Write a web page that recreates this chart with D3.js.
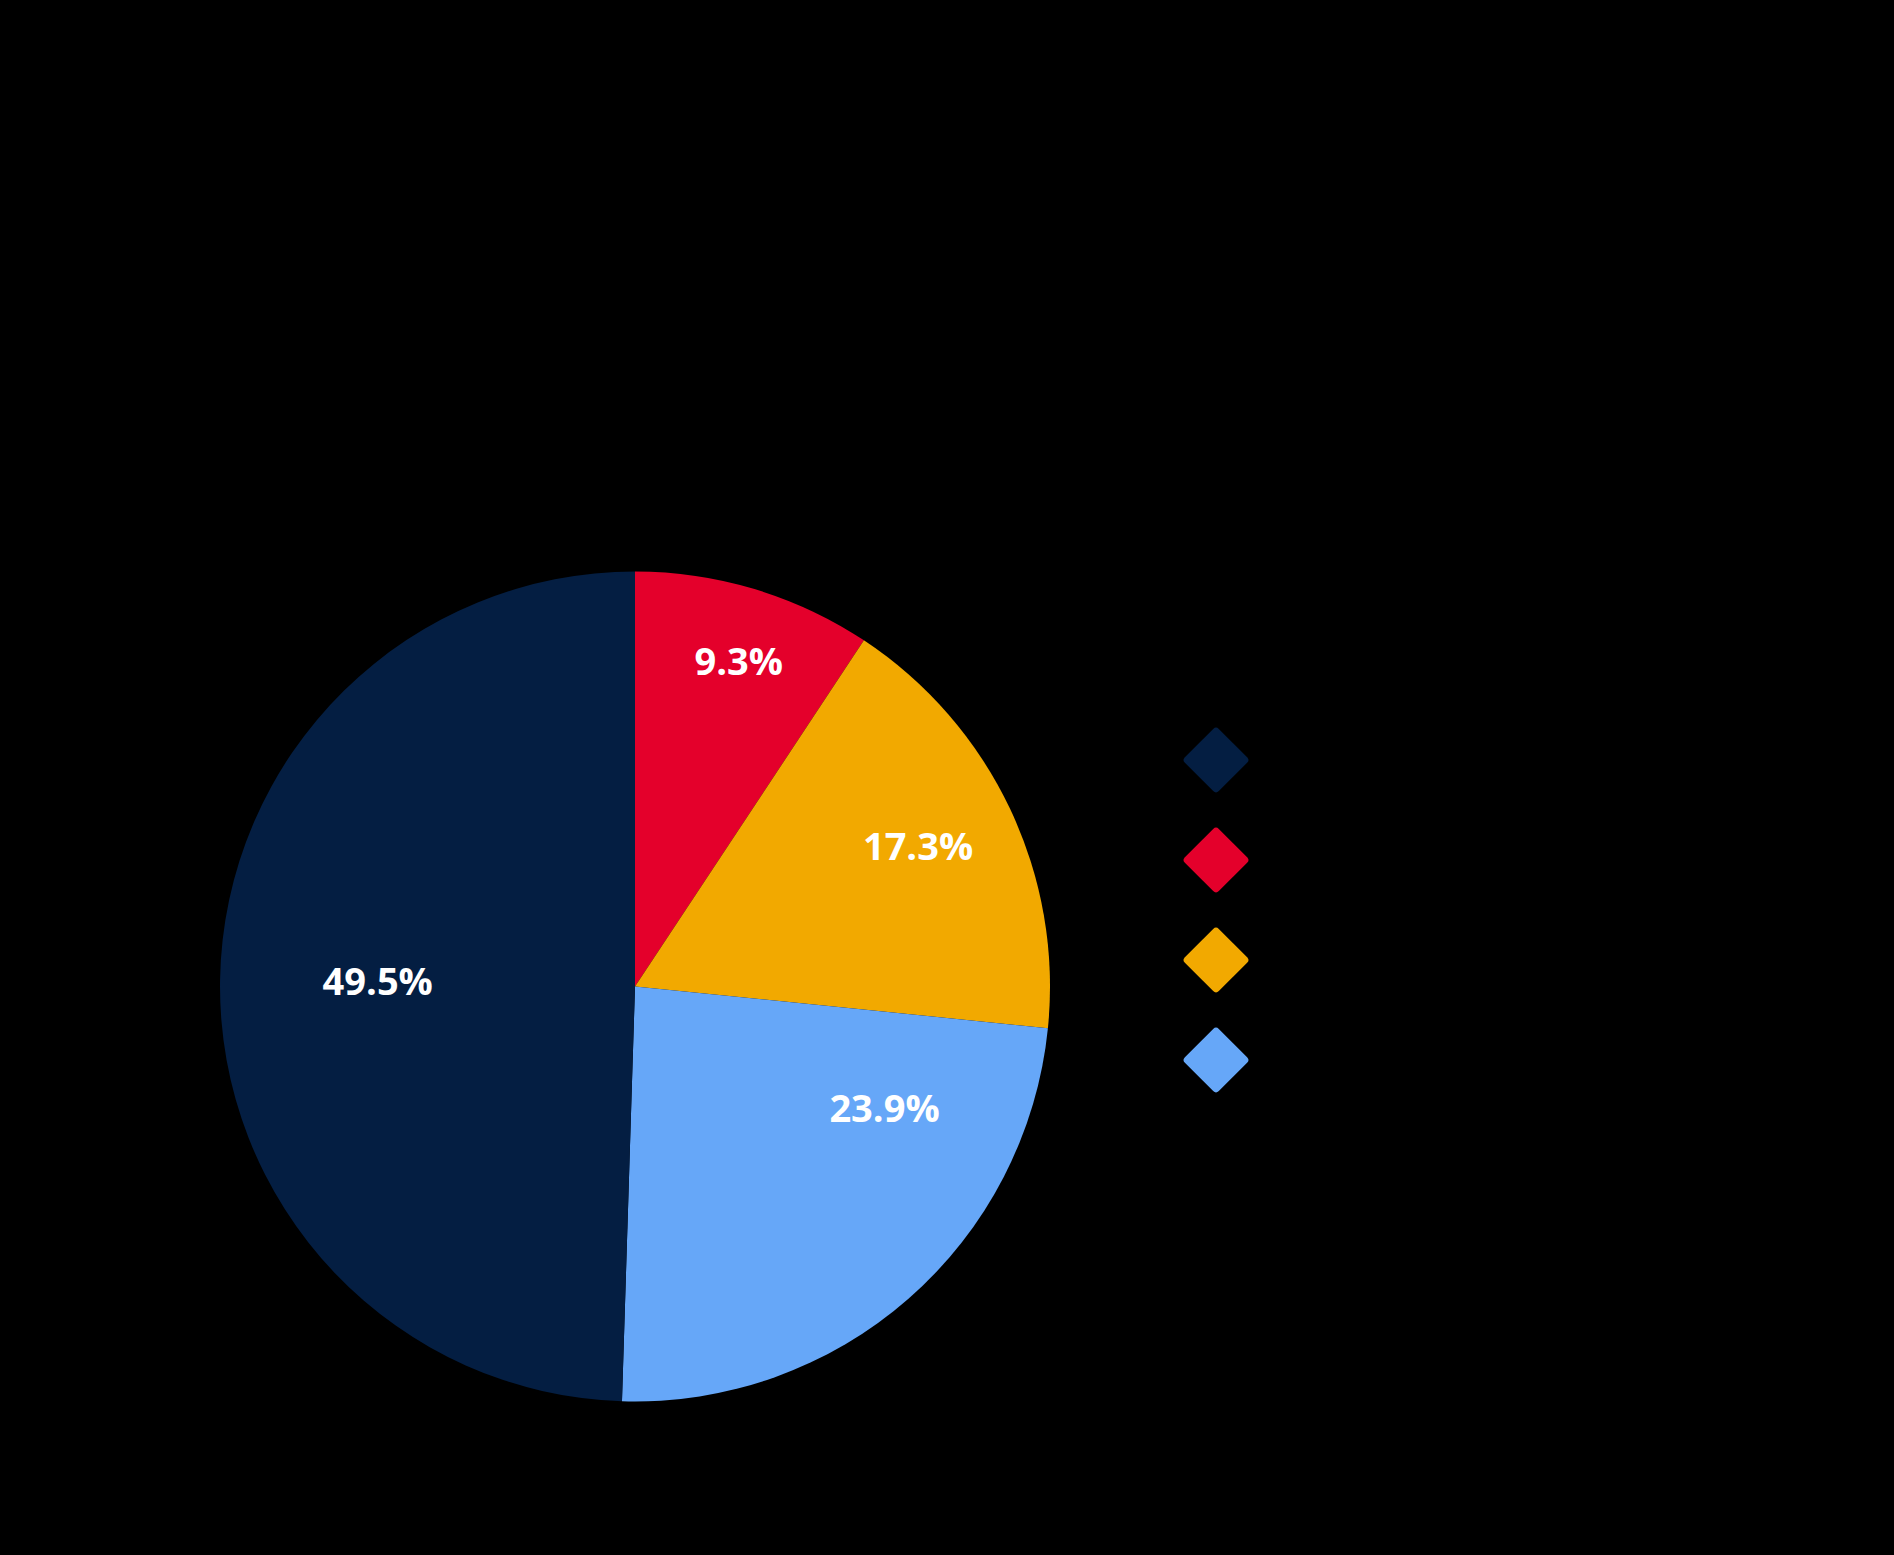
<!DOCTYPE html>
<html>
<head>
<meta charset="utf-8">
<script src="https://cdn.jsdelivr.net/npm/d3@7"></script>
<style>
  html, body { margin: 0; padding: 0; background: #000; }
  svg { display: block; }
</style>
</head>
<body>
<div id="chart"></div>
<script>
// ---- data ----
const sliceKeys = ["s1", "s2", "s3", "s4"];           // slice order, clockwise from 12 o'clock
const sliceValues = [9.3, 17.3, 23.9, 49.5];          // percent
const sliceLabels = ["9.3%", "17.3%", "23.9%", "49.5%"];
const legendOrder = ["s4", "s1", "s2", "s3"];          // legend order top to bottom

// ---- styles / layout ----
const colors = { s1: "#E4002B", s2: "#F2A900", s3: "#66A7F8", s4: "#041E42" };
// label placement: [fraction of radius, angle offset from slice mid-angle (deg)]
const labelPlacement = { s1: [0.82, 1], s2: [0.76, -0.8], s3: [0.67, -22.6], s4: [0.62, 0] };

const W = 1894, H = 1555;
const cx = 635, cy = 986.5, R = 415;

const svg = d3.select("#chart").append("svg")
  .attr("width", W).attr("height", H)
  .attr("viewBox", `0 0 ${W} ${H}`);

svg.append("rect").attr("width", W).attr("height", H).attr("fill", "#000");

const data = sliceKeys.map((k, i) => ({ key: k, value: sliceValues[i], label: sliceLabels[i] }));

const pie = d3.pie().value(d => d.value).sort(null);
const arcs = pie(data);
const arc = d3.arc().innerRadius(0).outerRadius(R);

const g = svg.append("g").attr("transform", `translate(${cx},${cy})`);

g.selectAll("path.slice")
  .data(arcs)
  .join("path")
  .attr("class", "slice")
  .attr("d", arc)
  .attr("fill", d => colors[d.data.key]);

function labelPos(d) {
  const p = labelPlacement[d.data.key];
  const a = (d.startAngle + d.endAngle) / 2 + p[1] * Math.PI / 180;
  const r = R * p[0];
  return [cx + r * Math.sin(a), cy - r * Math.cos(a)];
}

const labelsG = svg.append("g").attr("class", "labels");
arcs.forEach(d => {
  const pos = labelPos(d);
  labelsG.append("text")
    .attr("x", pos[0])
    .attr("y", pos[1] + 13)
    .attr("text-anchor", "middle")
    .style("fill", "#ffffff")
    .style("font-family", "'Open Sans', 'Noto Sans', sans-serif")
    .style("font-weight", "700")
    .style("font-size", "38px")
    .text(d.data.label);
});

// ---- legend ----
const legendY = d3.scalePoint().domain(legendOrder).range([760, 1060]);
const side = 48;
const legend = svg.append("g");
legend.selectAll("rect.key")
  .data(legendOrder)
  .join("rect")
  .attr("class", "key")
  .attr("x", -side / 2).attr("y", -side / 2)
  .attr("width", side).attr("height", side)
  .attr("rx", 4).attr("ry", 4)
  .attr("fill", d => colors[d])
  .attr("transform", d => `translate(1216,${legendY(d)}) rotate(45)`);
</script>
</body>
</html>
